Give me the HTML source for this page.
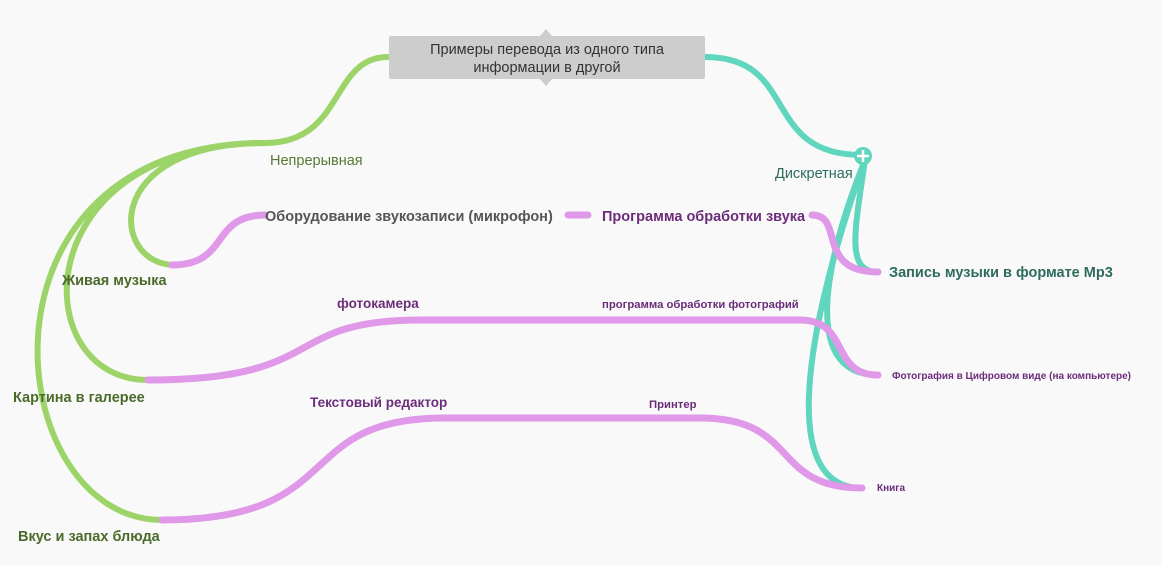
<!DOCTYPE html>
<html><head><meta charset="utf-8"><style>
html,body{margin:0;padding:0;background:#f9f9f9;}
svg text{font-family:"Liberation Sans","Noto Sans CJK SC",sans-serif;}
</style></head><body>
<svg width="1162" height="561" viewBox="0 0 1162 561" xmlns="http://www.w3.org/2000/svg">
<rect width="1162" height="561" fill="#f9f9f9"/>
<g fill="none" stroke-linecap="round">
 <g stroke="#5fd6bd" stroke-width="6">
  <path d="M705,57 C800,57 760,155 862,155"/>
  <path d="M865,160 C855,230 845,272 878,272"/>
  <path d="M865,160 C825,260 800,375 878,375"/>
  <path d="M865,160 C815,300 770,488 862,488"/>
 </g>
 <g stroke="#9dd46a" stroke-width="6">
  <path d="M388,57 C330,57 345,143 265,143"/>
  <path d="M265,143 C100,143 110,265 175,265"/>
  <path d="M265,143 C25,143 25,380 148,380"/>
  <path d="M265,143 C-40,143 0,520 162,520"/>
 </g>
 <g stroke="#e098e8" stroke-width="7">
  <path d="M172,265 C230,265 210,215 265,215"/>
  <path d="M568,215 L588,215"/>
  <path d="M812,215 C845,215 815,272 878,272"/>
  <path d="M148,380 C330,380 280,320 420,320 L800,320 C850,320 830,375 878,375"/>
  <path d="M162,520 C350,520 290,418 445,418 L700,418 C800,418 770,488 862,488"/>
 </g>
</g>
<circle cx="863" cy="156" r="9" fill="#5fd6bd"/>
<path d="M863,150 V162 M857,156 H869" stroke="#fff" stroke-width="2.5"/>
<rect x="389" y="36" width="316" height="43" rx="2" fill="#cdcdcd"/>
<path d="M540,36 L546,29 L552,36Z M540,79 L546,86 L552,79Z" fill="#cdcdcd"/>
<text x="547" y="54" font-size="14.5" fill="#333" text-anchor="middle">Примеры перевода из одного типа</text>
<text x="547" y="72" font-size="14.5" fill="#333" text-anchor="middle">информации в другой</text>
<text x="270" y="165" font-size="14.5" fill="#557a35">Непрерывная</text>
<text x="775" y="178" font-size="14.5" fill="#2e6b5e">Дискретная</text>
<g font-weight="bold" fill="#4a6a2a" font-size="14.5">
 <text x="62" y="285">Живая музыка</text>
 <text x="13" y="402">Картина в галерее</text>
 <text x="18" y="541">Вкус и запах блюда</text>
</g>
<text x="265" y="221" font-size="14.5" font-weight="bold" fill="#555">Оборудование звукозаписи (микрофон)</text>
<text x="602" y="221" font-size="14.5" font-weight="bold" fill="#6b2d7a">Программа обработки звука</text>
<text x="889" y="277" font-size="14.5" font-weight="bold" fill="#2e6b5e">Запись музыки в формате Mp3</text>
<text x="337" y="308" font-size="13.5" font-weight="bold" fill="#6b2d7a">фотокамера</text>
<text x="602" y="308" font-size="11.3" font-weight="bold" fill="#6b2d7a">программа обработки фотографий</text>
<text x="892" y="379" font-size="10" font-weight="bold" fill="#6b2d7a">Фотография в Цифровом виде (на компьютере)</text>
<text x="310" y="407" font-size="13.5" font-weight="bold" fill="#6b2d7a">Текстовый редактор</text>
<text x="649" y="408" font-size="11.3" font-weight="bold" fill="#6b2d7a">Принтер</text>
<text x="877" y="491" font-size="10" font-weight="bold" fill="#6b2d7a">Книга</text>
</svg>
</body></html>
